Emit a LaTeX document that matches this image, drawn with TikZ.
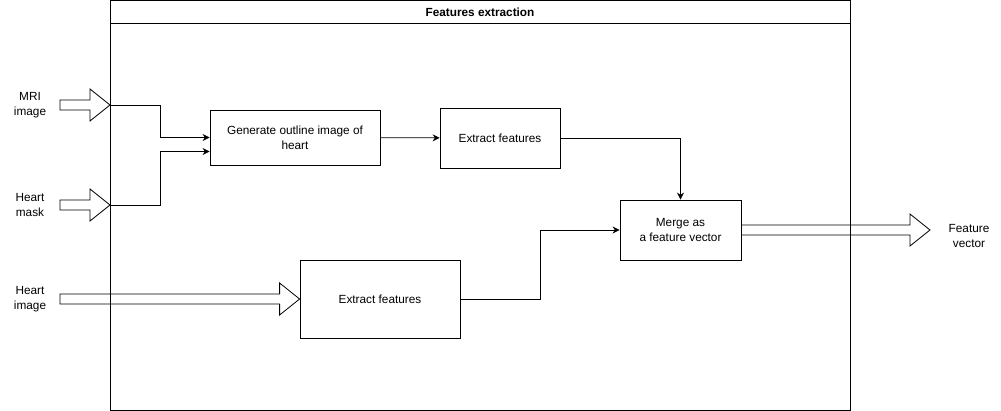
\documentclass[tikz,border=0pt]{standalone}
\usepackage{fontspec}
\setmainfont{Liberation Sans}
\usetikzlibrary{arrows.meta}
\usetikzlibrary{calc}

% hollow block arrow from #1 to its tip #2
\newcommand{\blockarrow}[2]{%
  \draw[fat] ($(#1)+(0,5)$) -- ($(#2)+(-20,5)$) -- ($(#2)+(-20,16)$) -- (#2)
    -- ($(#2)+(-20,-16)$) -- ($(#2)+(-20,-5)$) -- ($(#1)+(0,-5)$) -- cycle;}

\begin{document}
\begin{tikzpicture}[x=1pt, y=-1pt, line width=0.8pt,
    font=\fontsize{11.8}{15}\selectfont,
    box/.style={draw, rectangle, align=center, inner sep=0pt},
    conn/.style={-{Stealth[length=7pt,width=7pt]}},
    fat/.style={draw, line join=miter},
    lbl/.style={align=center}]
    \useasboundingbox (0,0) rectangle (1001,411);

    % container
    \node[draw, minimum width=740pt, minimum height=410pt, anchor=north west] (frame) at (110,0) {};
    \draw (110,23) -- (850,23);
    \node[font=\fontsize{11.8}{15}\selectfont\bfseries] (title) at (480,12) {Features extraction};

    % inputs and output
    \node[lbl] (mri)   at (30,105)  {MRI\\image};
    \node[lbl] (mask)  at (30,205)  {Heart\\mask};
    \node[lbl] (himg)  at (30,299)  {Heart\\image};
    \node[lbl] (fvec)  at (969,236) {Feature\\vector};

    % blocks
    \node[box, minimum width=170pt, minimum height=55pt] (gen)   at (295,137.5) {Generate outline image of\\heart};
    \node[box, minimum width=120pt, minimum height=60pt] (ext1)  at (500,138)   {Extract features};
    \node[box, minimum width=160pt, minimum height=78pt] (ext2)  at (380,299)   {Extract features};
    \node[box, minimum width=121pt, minimum height=60pt] (merge) at (680.5,230) {Merge as\\a feature vector};

    \coordinate (mritip)  at (frame.west |- mri);
    \coordinate (masktip) at (110,205);
    \coordinate (mristart)  at (60,105);
    \coordinate (maskstart) at (60,205);
    \coordinate (himgstart) at (60,299);
    \coordinate (fvectip)   at (930,230);

    \blockarrow{mristart}{mritip}
    \blockarrow{maskstart}{masktip}
    \blockarrow{himgstart}{ext2.west}
    \blockarrow{merge.east}{fvectip}

    \draw[conn] (mritip)  -- ++(50,0) |- (gen.west);
    \draw[conn] (masktip) -- ++(50,0) |- ($(gen.west)+(0,14)$);
    \draw[conn] (gen)  -- (ext1);
    \draw[conn] (ext1) -| (merge);
    \draw[conn] (ext2.east) -- ++(80,0) |- (merge.west);
\end{tikzpicture}
\end{document}
